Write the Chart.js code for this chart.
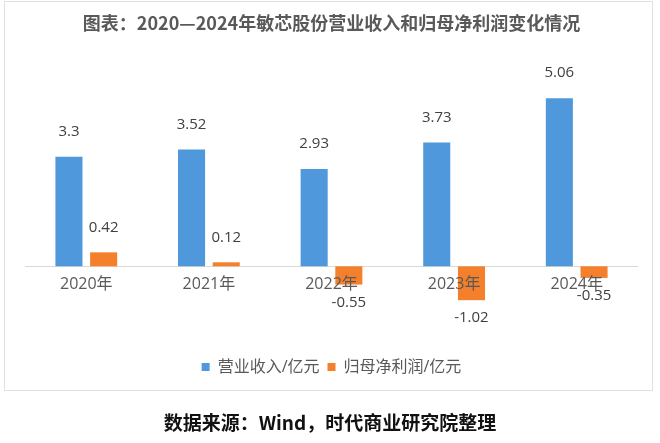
<!DOCTYPE html>
<html>
<head>
<meta charset="utf-8">
<script src="https://cdn.jsdelivr.net/npm/chart.js@4.4.1/dist/chart.umd.min.js"></script>
<style>
  html, body { margin: 0; padding: 0; background: #ffffff; }
  #wrap { position: relative; width: 660px; height: 443px; overflow: hidden; }
  #frame { position: absolute; left: 4px; top: 1px; width: 649px; height: 390px; border: 1px solid #e0e0e0; box-sizing: border-box; }
  #cv { position: absolute; left: 0; top: 0; }
  #caption { position: absolute; left: 0; top: 406px; width: 660px; height: 32px; line-height: 32px; text-align: center;
             font-family: "Noto Sans CJK SC", sans-serif; font-weight: bold; font-size: 19px; color: #111111; }
</style>
</head>
<body>
<div id="wrap">
  <div id="frame"></div>
  <canvas id="cv" width="660" height="443"></canvas>
  <div id="caption">数据来源：Wind，时代商业研究院整理</div>
</div>
<script>
const titleText = "图表：2020—2024年敏芯股份营业收入和归母净利润变化情况";
const categories = ["2020年", "2021年", "2022年", "2023年", "2024年"];
const revenue = [3.3, 3.52, 2.93, 3.73, 5.06];
const netProfit = [0.42, 0.12, -0.55, -1.02, -0.35];
const seriesNames = ["营业收入/亿元", "归母净利润/亿元"];

const FONT = '"Open Sans", "Noto Sans CJK SC", sans-serif';

const overlay = {
  id: 'overlay',
  beforeDatasetsDraw(chart) {
    const ctx = chart.ctx, ca = chart.chartArea, y = chart.scales.y;
    const y0 = Math.round(y.getPixelForValue(0)) + 0.5;
    ctx.save();
    ctx.strokeStyle = '#d9d9d9';
    ctx.lineWidth = 1;
    ctx.beginPath();
    ctx.moveTo(ca.left, y0);
    ctx.lineTo(ca.right, y0);
    ctx.stroke();
    ctx.restore();
  },
  afterDatasetsDraw(chart) {
    const ctx = chart.ctx, x = chart.scales.x, y = chart.scales.y;
    const y0 = y.getPixelForValue(0);
    ctx.save();
    ctx.textAlign = 'center';
    ctx.textBaseline = 'middle';
    // category labels
    ctx.fillStyle = '#595959';
    ctx.font = '16px ' + FONT;
    categories.forEach((c, i) => {
      ctx.fillText(c, x.getPixelForValue(i), y0 + 18);
    });
    // data labels
    ctx.fillStyle = '#404040';
    ctx.font = '15px ' + FONT;
    chart.data.datasets.forEach((ds, di) => {
      const meta = chart.getDatasetMeta(di);
      meta.data.forEach((el, i) => {
        const v = ds.data[i];
        const ly = v >= 0 ? el.y - 25 : el.y + 18;
        ctx.fillText(String(v), el.x, ly);
      });
    });
    ctx.restore();
  }
};

new Chart(document.getElementById('cv'), {
  type: 'bar',
  data: {
    labels: categories,
    datasets: [
      { label: seriesNames[0], data: revenue, backgroundColor: '#4E98DB', categoryPercentage: 0.566, barPercentage: 0.78 },
      { label: seriesNames[1], data: netProfit, backgroundColor: '#F5802B', categoryPercentage: 0.566, barPercentage: 0.78 }
    ]
  },
  options: {
    responsive: false,
    animation: false,
    devicePixelRatio: 1,
    layout: { padding: { left: 25, right: 22, top: 0, bottom: 58 } },
    scales: {
      x: { display: false },
      y: { display: false, min: -2.55, max: 6 }
    },
    plugins: {
      title: {
        display: true,
        text: titleText,
        color: '#595959',
        font: { family: '"Noto Sans CJK SC", sans-serif', size: 18, weight: 'bold' },
        padding: { top: 12, bottom: 33.4 }
      },
      legend: {
        position: 'bottom',
        labels: {
          color: '#595959',
          font: { family: FONT, size: 16 },
          boxWidth: 8,
          boxHeight: 8,
          padding: 8
        }
      },
      tooltip: { enabled: false }
    }
  },
  plugins: [overlay]
});
</script>
</body>
</html>
